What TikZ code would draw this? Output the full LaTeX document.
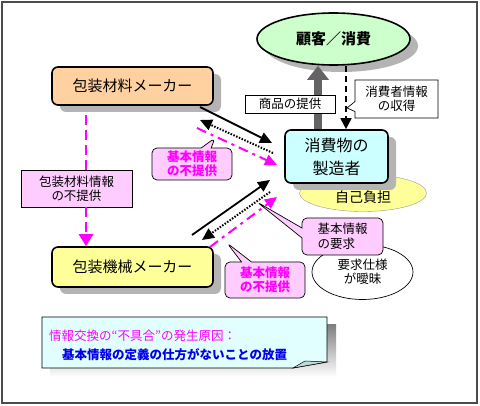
\documentclass[tikz,border=0pt]{standalone}
\usepackage{fontspec}
\setmainfont{Noto Sans CJK JP}
\usetikzlibrary{positioning, shapes.geometric, shapes.callouts, shadows, arrows.meta}

\definecolor{peach}{RGB}{255,208,160}
\definecolor{lemon}{RGB}{255,255,153}
\definecolor{mint}{RGB}{204,255,204}
\definecolor{aqua}{RGB}{204,255,255}
\definecolor{pinkish}{RGB}{255,204,255}
\definecolor{mag}{RGB}{255,0,255}
\definecolor{notefill}{RGB}{226,255,255}
\definecolor{shade}{RGB}{180,180,180}
\definecolor{darkarrow}{RGB}{100,100,100}
\definecolor{notetext}{RGB}{0,0,235}

\tikzset{
  shadebox/.style={drop shadow={shadow xshift=8pt, shadow yshift=-7pt, fill=shade, opacity=1}},
  maker/.style={draw, line width=1.6pt, rounded corners=6pt, minimum width=161pt,
    minimum height=38pt, font=\fontsize{15}{18}\selectfont, shadebox},
  small/.style={font=\fontsize{12.5}{14.5}\selectfont, align=center, inner sep=2pt},
  bubble/.style={small, rectangle callout, draw, line width=0.7pt, fill=pinkish,
    rounded corners=5pt, callout pointer width=10pt},
  nogive/.style={bubble, text=mag, font=\fontsize{12.5}{14}\selectfont\bfseries},
  solidarr/.style={line width=1.8pt, -{Triangle[length=12pt, width=11pt]}},
  dotarr/.style={line width=2pt, dash pattern=on 1.5pt off 1.5pt, -{Triangle[length=12pt, width=11pt]}},
  magarr/.style={mag, line width=2pt, dash pattern=on 10pt off 5pt on 3pt off 5pt,
    -{Triangle[length=12pt, width=11pt]}}
}

\begin{document}
\begin{tikzpicture}[x=1pt, y=-1pt, node distance=100pt, on grid]
    \useasboundingbox (0,0) rectangle (480,406);
    \draw[line width=2pt, black!70] (2,2) rectangle (477,403);

    % makers on the left
    \node[maker, fill=peach] (pkgmat) at (132.5,86) {包装材料メーカー};
    \node[maker, fill=lemon, minimum height=40pt] (pkgmach) [below=181pt of pkgmat] {包装機械メーカー};
    \node[small, draw, line width=0.7pt, fill=pinkish, minimum width=111pt, minimum height=37pt]
        (matinfo) at (76.5,188.5) {包装材料情報\\の不提供};

    % customer and manufacturer
    \node[ellipse, draw, line width=1.6pt, fill=mint, minimum width=153pt, minimum height=52pt,
        font=\fontsize{15}{18}\selectfont\bfseries, shadebox] (customer) at (333.5,39) {顧客／消費};
    \node[ellipse, fill=lemon, draw=black!40, minimum width=127pt, minimum height=37pt] (selfpay) at (363,193) {};
    \node[maker, fill=aqua, minimum width=103pt, minimum height=53pt, align=center,
        font=\fontsize{16}{23}\selectfont] (maker) at (336.5,156.5) {消費物の\\製造者};
    \node[font=\fontsize{14}{16}\selectfont, inner sep=0pt] (selfpaytext) at ([yshift=-4pt]selfpay.center) {自己負担};

    \draw[darkarrow, line width=8pt, -{Triangle[length=14pt, width=21pt]}]
        ([xshift=-18.5pt]maker.north) -- ([xshift=-18.5pt]maker.north |- customer.south);
    \draw[line width=1.6pt, dash pattern=on 6pt off 4pt, -{Triangle[length=11pt, width=11pt]}]
        ([xshift=9.5pt]maker.north |- customer.south) -- ([xshift=9.5pt]maker.north);

    \node[small, draw, line width=0.7pt, fill=white, minimum width=90pt, minimum height=18pt]
        (goods) at (290,104) {商品の提供};
    \node[small, rectangle callout, draw, line width=0.7pt, fill=white, minimum width=83pt,
        minimum height=38pt, callout pointer width=10pt, callout absolute pointer={(347,108)}]
        (getinfo) at (396.5,99) {消費者情報\\の収得};

    % information flow
    \coordinate (ua1) at (200,107); \coordinate (ua2) at (272,143);
    \coordinate (ub1) at (273,153); \coordinate (ub2) at (200,120);
    \coordinate (uc1) at (197,128); \coordinate (uc2) at (277,165);
    \coordinate (la1) at (192,235); \coordinate (la2) at (270,180);
    \coordinate (lb1) at (270,192); \coordinate (lb2) at (202,240);
    \coordinate (lc1) at (210,247); \coordinate (lc2) at (277,197);
    \coordinate (drop) at (86,115);

    \path
    (ua1) edge[solidarr] (ua2)
    (ub1) edge[dotarr] (ub2)
    (uc1) edge[magarr] (uc2)
    (la1) edge[solidarr] (la2)
    (lb1) edge[dotarr] (lb2)
    (lc1) edge[magarr] (lc2);

    \draw[mag, line width=2.5pt, dash pattern=on 10pt off 5pt] (drop) -- (drop |- matinfo.north);
    \draw[mag, line width=2.5pt, dash pattern=on 10pt off 5pt, -{Triangle[length=12pt, width=14pt]}]
        (drop |- matinfo.south) -- (drop |- pkgmach.north);

    \node[nogive, minimum width=80pt, minimum height=32pt, callout absolute pointer={(215,138)}]
        (nogiveup) at (192,164) {基本情報\\の不提供};
    \node[nogive, minimum width=80pt, minimum height=36pt, callout absolute pointer={(227,243)}]
        (nogivelow) at (265,280) {基本情報\\の不提供};

    \node[small, ellipse, draw, line width=0.7pt, fill=white, minimum width=101pt, minimum height=55pt]
        (vague) at (362.5,272) {要求仕様\\が曖昧};
    \node[bubble, align=left, minimum width=81pt, minimum height=37pt, callout absolute pointer={(257,202)}]
        (askinfo) at (342.5,236.5) {基本情報\\の要求};

    % cause of the trouble
    \fill[shade] (50,325) rectangle (336,377);
    \draw[line width=0.7pt, fill=notefill] (42,317) -- (327,317) -- (327,362) -- (293,368) -- (42,368) -- cycle;
    \draw[line width=0.5pt, fill=aqua!50!shade] (293,368) -- (305,361) -- (327,362) -- cycle;
    \node[anchor=west, text=mag, font=\fontsize{12.5}{14}\selectfont, inner sep=0pt]
        (causehead) at (49,336) {情報交換の“不具合”の発生原因：};
    \node[anchor=west, text=notetext, font=\fontsize{12.5}{14}\selectfont\bfseries, inner sep=0pt]
        (causebody) at (62,355) {基本情報の定義の仕方がないことの放置};
\end{tikzpicture}
\end{document}
